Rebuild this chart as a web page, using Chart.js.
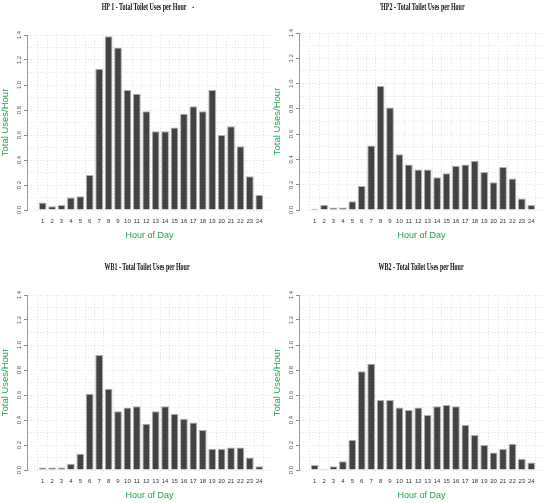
<!DOCTYPE html>
<html>
<head>
<meta charset="utf-8">
<script src="https://cdn.jsdelivr.net/npm/chart.js@4.4.1/dist/chart.umd.min.js"></script>
<style>
  body { margin: 0; width: 553px; height: 503px; overflow: hidden; background: #fff; position: relative; }
  .panel { position: absolute; width: 276px; height: 250px; }
  .ttl { position: absolute; width: 240px; text-align: center; font: bold 10px 'Liberation Serif', serif;
         line-height: 12px; white-space: pre; color: #111; transform: scaleX(0.6); }
</style>
</head>
<body>
<div class="panel" style="left:0;top:0"><canvas id="hp1" width="276" height="250"></canvas></div>
<div class="panel" style="left:272px;top:0"><canvas id="hp2" width="276" height="250"></canvas></div>
<div class="panel" style="left:0;top:260px"><canvas id="wb1" width="276" height="250"></canvas></div>
<div class="panel" style="left:272px;top:260px"><canvas id="wb2" width="276" height="250"></canvas></div>

<div class="ttl" style="left:28px;top:1px">HP 1 - Total Toilet Uses per Hour    -</div>
<div class="ttl" style="left:302px;top:1px">'HP2 - Total Toilet Uses per Hour</div>
<div class="ttl" style="left:27px;top:261px">WB1 - Total Toilet Uses per Hour</div>
<div class="ttl" style="left:301px;top:261px">WB2 - Total Toilet Uses per Hour</div>

<script>
const hours = [1, 2, 3, 4, 5, 6, 7, 8, 9, 10, 11, 12, 13, 14, 15, 16, 17, 18, 19, 20, 21, 22, 23, 24]

// total uses per hour
const hp1 = [0.06, 0.03, 0.04, 0.10, 0.11, 0.28, 1.13, 1.39, 1.30, 0.96, 0.93, 0.79, 0.63, 0.63, 0.66, 0.77, 0.83, 0.79, 0.96, 0.60, 0.67, 0.51, 0.27, 0.12]
const hp2 = [0.01, 0.04, 0.02, 0.02, 0.07, 0.19, 0.51, 0.98, 0.81, 0.44, 0.36, 0.32, 0.32, 0.26, 0.29, 0.35, 0.36, 0.39, 0.30, 0.22, 0.34, 0.25, 0.09, 0.04]
const wb1 = [0.02, 0.02, 0.02, 0.05, 0.13, 0.61, 0.92, 0.65, 0.47, 0.50, 0.51, 0.37, 0.47, 0.51, 0.45, 0.41, 0.38, 0.32, 0.17, 0.17, 0.18, 0.18, 0.10, 0.03]
const wb2 = [0.04, 0.01, 0.03, 0.07, 0.24, 0.79, 0.85, 0.56, 0.56, 0.50, 0.48, 0.50, 0.44, 0.51, 0.52, 0.51, 0.36, 0.28, 0.20, 0.14, 0.17, 0.21, 0.09, 0.06]

const green = '#22a046'
const sans = "'Liberation Sans', sans-serif"

const makeChart = (id, values, topPad) => {
  new Chart(document.getElementById(id), {
    type: 'bar',
    data: {
      labels: hours,
      datasets: [{
        data: values,
        backgroundColor: '#434343',
        borderColor: '#b0b0b0',
        borderWidth: 1,
        barPercentage: 0.82,
        categoryPercentage: 1
      }]
    },
    options: {
      responsive: false,
      animation: false,
      layout: { padding: { top: topPad, right: 4, left: 0, bottom: 0 } },
      plugins: { legend: { display: false }, tooltip: { enabled: false } },
      scales: {
        x: {
          type: 'linear',
          min: -0.12,
          max: 24.81,
          afterBuildTicks: s => { s.ticks = hours.map(h => ({ value: h })) },
          afterFit: s => { s.height = 40 },
          grid: { color: '#e2e2e2', drawTicks: false },
          border: { display: false, dash: [1, 2] },
          ticks: { padding: 8, autoSkip: false, maxRotation: 0, font: { size: 6, family: sans }, color: '#333' },
          title: { display: true, text: 'Hour of Day', color: green, font: { size: 9, family: sans }, padding: { top: 0, bottom: 9 } }
        },
        y: {
          min: 0,
          max: 1.4,
          afterFit: s => { s.width = 27 },
          grid: {
            color: '#e2e2e2',
            tickLength: 3,
            tickColor: c => Math.round(c.tick.value * 10) % 2 === 0 ? '#888' : 'rgba(0,0,0,0)'
          },
          border: { display: true, color: '#999', dash: [1, 2] },
          ticks: {
            stepSize: 0.1,
            autoSkip: false,
            minRotation: 90,
            maxRotation: 90,
            crossAlign: 'center',
            padding: 0,
            font: { size: 6, family: sans },
            color: '#555',
            callback: v => Math.round(v * 10) % 2 === 0 ? v.toFixed(1) : ''
          },
          title: { display: true, text: 'Total Uses/Hour', color: green, font: { size: 9.5, family: sans }, padding: 0 }
        }
      }
    }
  })
}

makeChart('hp1', hp1, 35)
makeChart('hp2', hp2, 33)
makeChart('wb1', wb1, 35)
makeChart('wb2', wb2, 35)
</script>
</body>
</html>
